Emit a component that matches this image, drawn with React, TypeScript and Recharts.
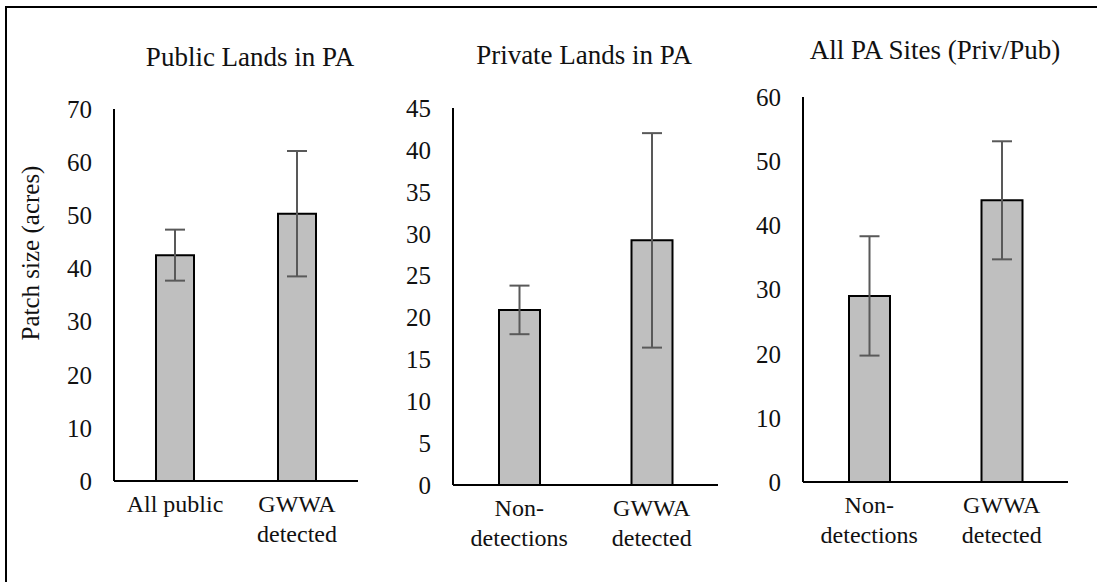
import { BarChart, Bar, XAxis, YAxis, ErrorBar } from 'recharts'

const publicCats = ['All public', 'GWWA\ndetected']
const publicMeans = [42.5, 50.3]
const publicErr = [4.8, 11.8]
const publicTicks = [0, 10, 20, 30, 40, 50, 60, 70]

const privateCats = ['Non-\ndetections', 'GWWA\ndetected']
const privateMeans = [20.9, 29.2]
const privateErr = [2.9, 12.8]
const privateTicks = [0, 5, 10, 15, 20, 25, 30, 35, 40, 45]

const allCats = ['Non-\ndetections', 'GWWA\ndetected']
const allMeans = [29.0, 43.9]
const allErr = [9.3, 9.2]
const allTicks = [0, 10, 20, 30, 40, 50, 60]

const FONT = 'Liberation Serif'
const TEXT = '#111'

const CatTick = (props: any) => {
  const { x, y, payload } = props
  const lines = String(payload.value).split('\n')
  return (
    <text x={x} y={y} textAnchor="middle" fill={TEXT} fontFamily={FONT} fontSize={24}>
      {lines.map((l, i) => (
        <tspan key={i} x={x} dy={i === 0 ? 31 : 30}>
          {l}
        </tspan>
      ))}
    </text>
  )
}

type PanelProps = {
  cats: string[]
  means: number[]
  errs: number[]
  ticks: number[]
  plotLeft: number
  plotRight: number
  plotTop: number
  plotBottom: number
  barSize: number
}

const Panel = ({ cats, means, errs, ticks, plotLeft, plotRight, plotTop, plotBottom, barSize }: PanelProps) => {
  const data = cats.map((c, i) => ({ name: c, value: means[i], err: errs[i] }))
  const left = plotLeft - 110
  const width = plotRight + 10 - left
  return (
    <div style={{ position: 'absolute', left, top: 0 }}>
      <BarChart
        width={width}
        height={582}
        data={data}
        margin={{ top: plotTop, right: 10, left: 10, bottom: 582 - plotBottom - 80 }}
      >
        <XAxis
          dataKey="name"
          height={80}
          tickLine={false}
          tickSize={0}
          tickMargin={0}
          axisLine={{ stroke: '#000', strokeWidth: 2 }}
          tick={<CatTick />}
          interval={0}
        />
        <YAxis
          width={100}
          domain={[0, ticks[ticks.length - 1]]}
          ticks={ticks}
          tickLine={false}
          tickSize={0}
          tickMargin={22}
          axisLine={{ stroke: '#000', strokeWidth: 2 }}
          tick={{ fontSize: 25, fill: TEXT, fontFamily: FONT }}
        />
        <Bar dataKey="value" fill="#bfbfbf" stroke="#000" strokeWidth={2} barSize={barSize} isAnimationActive={false}>
          <ErrorBar dataKey="err" width={10} stroke="#595959" strokeWidth={2} />
        </Bar>
      </BarChart>
    </div>
  )
}

const App = () => {
  return (
    <div
      style={{
        position: 'absolute',
        left: 0,
        top: 0,
        width: 1097,
        height: 582,
        background: '#fff',
        overflow: 'hidden',
        fontFamily: FONT,
      }}
    >
      <div
        style={{
          position: 'absolute',
          left: 5,
          top: 6,
          width: 1100,
          height: 600,
          borderTop: '2px solid #000',
          borderLeft: '2px solid #000',
        }}
      />
      <Panel cats={publicCats} means={publicMeans} errs={publicErr} ticks={publicTicks}
        plotLeft={114} plotRight={358} plotTop={109} plotBottom={481} barSize={38} />
      <Panel cats={privateCats} means={privateMeans} errs={privateErr} ticks={privateTicks}
        plotLeft={453} plotRight={718} plotTop={108} plotBottom={485} barSize={41} />
      <Panel cats={allCats} means={allMeans} errs={allErr} ticks={allTicks}
        plotLeft={803} plotRight={1068} plotTop={97} plotBottom={482} barSize={41} />
      <svg width={1097} height={582} style={{ position: 'absolute', left: 0, top: 0, pointerEvents: 'none' }}>
        <g fill={TEXT} textAnchor="middle" fontFamily={FONT}>
          <text x={250} y={57} fontSize={27} dominantBaseline="central">Public Lands in PA</text>
          <text x={584} y={55} fontSize={27} dominantBaseline="central">Private Lands in PA</text>
          <text x={935} y={50} fontSize={27} dominantBaseline="central">All PA Sites (Priv/Pub)</text>
          <text x={30} y={253} fontSize={25} dominantBaseline="central" transform="rotate(-90 30 253)">
            Patch size (acres)
          </text>
        </g>
      </svg>
    </div>
  )
}

export default App
